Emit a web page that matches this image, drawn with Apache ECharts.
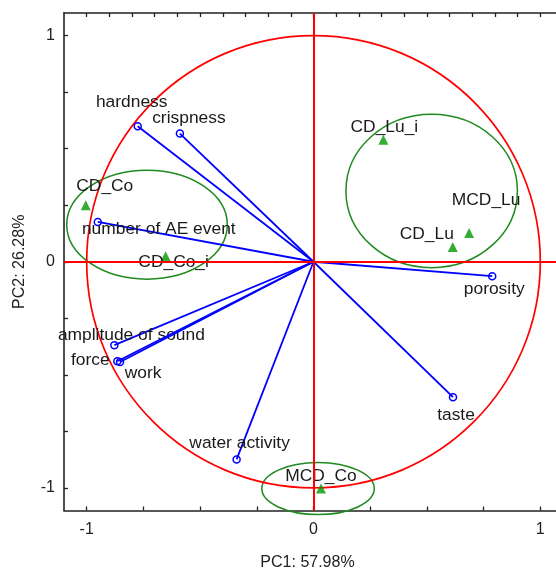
<!DOCTYPE html>
<html><head><meta charset="utf-8">
<script src="https://cdn.jsdelivr.net/npm/echarts@6/dist/echarts.min.js"></script>
<style>html,body{margin:0;padding:0;background:#fff}#c{width:556px;height:569px}</style>
</head><body><div id="c"></div>
<script>
// ---- data ----
const varNames = ['hardness','crispness','number of AE event','amplitude of sound','force','work','water activity','taste','porosity'];
const varPC1 = [-0.775,-0.589,-0.951,-0.878,-0.865,-0.853,-0.339,0.615,0.788];
const varPC2 = [0.599,0.567,0.176,-0.369,-0.440,-0.443,-0.874,-0.599,-0.064];

const obsNames = ['CD_Co','CD_Co_i','CD_Lu_i','MCD_Lu','CD_Lu','MCD_Co'];
const obsPC1 = [-1.004,-0.652,0.308,0.686,0.614,0.033];
const obsPC2 = [0.250,0.024,0.540,0.127,0.065,-1.003];

// group ellipses: centre and semi-axes in PC units
const groupCX = [-0.734,0.521,0.020];
const groupCY = [0.164,0.313,-1.003];
const groupRX = [0.354,0.378,0.248];
const groupRY = [0.241,0.339,0.115];

const circleRadius = 1;

const axisTickValues = [-1,-0.75,-0.5,-0.25,0,0.25,0.5,0.75,1];
const topTickValues = [-1,-0.9,-0.8,-0.7,-0.6,-0.5,-0.4,-0.3,-0.2,-0.1,0,0.1,0.2,0.3,0.4,0.5,0.6,0.7,0.8,0.9,1];
const axisLabelValues = [-1,0,1];

// ---- label placement (pixel offsets from mark) ----
const varLabelOffset = [[-6,-24],[9,-15],[61,7.5],[17,-9.5],[-27,-1],[23,11],[3,-16],[3,17.5],[2,13]];
const obsLabelOffset = [[19,-19],[8,6],[1,-12],[17,-33],[-26,-13],[0,-12]];

const FONT = '"Liberation Sans", Arial, sans-serif';
const AX = '#222';
const LABEL_FONT = '17.4px ' + FONT;

const chart = echarts.init(document.getElementById('c'));

const axisCommon = {
  type:'value', min:-1.1, max:1.1,
  splitLine:{show:false},
  axisLine:{show:true, onZero:false, lineStyle:{color:AX, width:1.6}},
};

function textEl(str, x, y){
  return {type:'text', style:{text:str, x:x, y:y, align:'center', verticalAlign:'middle', fill:'#1a1a1a', font:LABEL_FONT}};
}

chart.setOption({
  animation:false,
  backgroundColor:'#fff',
  grid:{left:64, top:13, width:499, height:497.5, containLabel:false, outerBoundsMode:'none'},
  xAxis:[
    Object.assign({}, axisCommon, {
      position:'bottom',
      axisTick:{show:true, inside:true, length:4, customValues:axisTickValues, lineStyle:{color:AX, width:1.3}},
      axisLabel:{show:true, customValues:axisLabelValues, margin:11, fontSize:16, color:'#222', fontFamily:FONT},
      name:'PC1: 57.98%', nameLocation:'middle', nameGap:44,
      nameTextStyle:{fontSize:16, color:'#222', fontFamily:FONT, padding:[0,12,0,0]}
    }),
    Object.assign({}, axisCommon, {
      position:'top',
      axisTick:{show:true, inside:true, length:4, customValues:topTickValues, lineStyle:{color:AX, width:1.3}},
      axisLabel:{show:false}
    })
  ],
  yAxis:[
    Object.assign({}, axisCommon, {
      position:'left',
      axisTick:{show:true, inside:true, length:4, customValues:axisTickValues, lineStyle:{color:AX, width:1.3}},
      axisLabel:{show:true, customValues:axisLabelValues, margin:9, fontSize:16, color:'#222', fontFamily:FONT},
      name:'PC2: 26.28%', nameLocation:'middle', nameGap:36, nameRotate:90,
      nameTextStyle:{fontSize:16, color:'#222', fontFamily:FONT}
    })
  ],
  series:[
    {
      type:'custom', name:'groups', clip:false, silent:true,
      data: groupCX.map((c,i)=>[c, groupCY[i], groupRX[i], groupRY[i]]),
      renderItem:(params, api)=>{
        const c = api.coord([api.value(0), api.value(1)]);
        const s = api.size([api.value(2), api.value(3)], [api.value(0), api.value(1)]);
        return {type:'ellipse', shape:{cx:c[0], cy:c[1], rx:s[0], ry:s[1]},
                style:{fill:'none', stroke:'#1f8a1f', lineWidth:1.5}};
      }
    },
    {
      type:'custom', name:'circle', clip:false, silent:true,
      data:[[0,0,circleRadius,circleRadius]],
      renderItem:(params, api)=>{
        const c = api.coord([api.value(0), api.value(1)]);
        const s = api.size([api.value(2), api.value(3)], [api.value(0), api.value(1)]);
        return {type:'ellipse', shape:{cx:c[0], cy:c[1], rx:s[0], ry:s[1]},
                style:{fill:'none', stroke:'#ff0000', lineWidth:1.7}};
      }
    },
    {
      type:'custom', name:'variables', clip:false, silent:true,
      data: varPC1.map((x,i)=>[x, varPC2[i]]),
      renderItem:(params, api)=>{
        const o = api.coord([0,0]);
        const p = api.coord([api.value(0), api.value(1)]);
        const off = varLabelOffset[params.dataIndex];
        return {type:'group', children:[
          {type:'line', shape:{x1:o[0], y1:o[1], x2:p[0], y2:p[1]}, style:{stroke:'#0000ff', lineWidth:1.8}},
          {type:'circle', shape:{cx:p[0], cy:p[1], r:3.5}, style:{fill:'none', stroke:'#0000ff', lineWidth:1.5}},
          textEl(varNames[params.dataIndex], p[0]+off[0], p[1]+off[1])
        ]};
      }
    },
    {
      type:'line', name:'cross', data:[], silent:true,
      markLine:{silent:true, symbol:'none', animation:false,
        lineStyle:{color:'#ff0000', width:2, type:'solid'}, label:{show:false},
        emphasis:{disabled:true},
        data:[{xAxis:0},{yAxis:0}]}
    },
    {
      type:'scatter', name:'observations', symbol:'triangle', symbolSize:[10,10],
      itemStyle:{color:'#009900'}, silent:true, z:3,
      data: obsPC1.map((x,i)=>[x, obsPC2[i]])
    },
    {
      type:'custom', name:'observationLabels', clip:false, silent:true, z:4,
      data: obsPC1.map((x,i)=>[x, obsPC2[i]]),
      renderItem:(params, api)=>{
        const p = api.coord([api.value(0), api.value(1)]);
        const off = obsLabelOffset[params.dataIndex];
        return textEl(obsNames[params.dataIndex], p[0]+off[0], p[1]+off[1]);
      }
    }
  ]
});
</script></body></html>
